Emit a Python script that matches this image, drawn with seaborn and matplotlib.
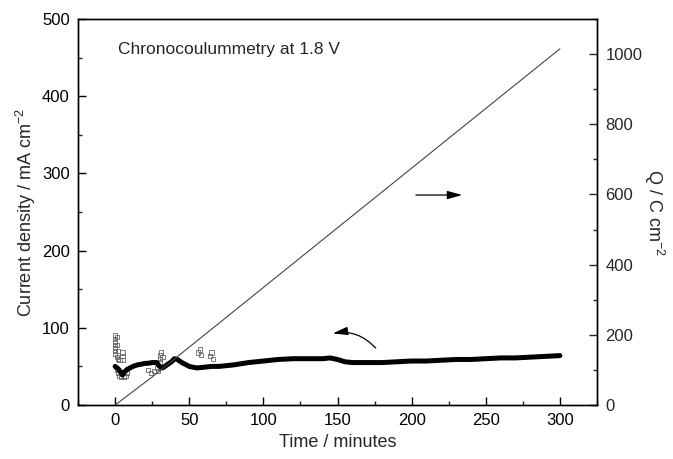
import matplotlib
matplotlib.use("Agg")
import matplotlib.pyplot as plt
import seaborn as sns
import pandas as pd
from matplotlib.ticker import MultipleLocator

# ---- data ----
time_min = [0, 2, 4, 5, 6, 8, 10, 12, 15, 18, 20, 22, 25, 28, 30, 32, 35, 38, 40, 42,
            45, 48, 50, 55, 60, 65, 70, 75, 80, 90, 100, 110, 120, 130, 140, 145, 150,
            155, 160, 170, 180, 190, 200, 210, 220, 230, 240, 250, 260, 270, 280, 290, 300]
current = [50, 47, 42, 39, 42, 46, 48, 50, 52, 53, 54, 54, 55, 55, 50, 48, 52, 56, 60, 59,
           55, 52, 50, 48, 49, 50, 50, 51, 52, 55, 57, 59, 60, 60, 60, 61, 59,
           56, 55, 55, 55, 56, 57, 57, 58, 59, 59, 60, 61, 61, 62, 63, 64]

spike_t = [0, 0, 0, 0, 0, 0, 0, 1, 1, 1, 1, 2, 2, 2, 3, 3, 4, 4, 5, 5, 5, 6, 7, 8,
           22, 24, 26, 28, 29, 30, 30, 30, 31, 32, 56, 57, 58, 64, 65, 66]
spike_i = [90, 86, 82, 78, 74, 70, 66, 88, 78, 62, 45, 70, 60, 42, 58, 38, 40, 36, 68, 63, 58,
           36, 38, 42, 45, 42, 44, 48, 44, 65, 60, 55, 68, 62, 68, 72, 65, 64, 68, 60]

q_time = [0, 25, 50, 75, 100, 125, 150, 175, 200, 225, 250, 275, 300]
q_charge = [0, 80, 165, 250, 335, 420, 505, 590, 675, 760, 845, 930, 1015]

df_i = pd.DataFrame({"t": time_min, "i": current})
df_s = pd.DataFrame({"t": spike_t, "i": spike_i})
df_q = pd.DataFrame({"t": q_time, "q": q_charge})

sns.set_style("white")
plt.rcParams["font.family"] = ["Liberation Sans", "DejaVu Sans"]
plt.rcParams["mathtext.fontset"] = "custom"
plt.rcParams["mathtext.rm"] = "Liberation Sans"

fig = plt.figure(figsize=(6.73, 4.59), dpi=100)
ax = fig.add_axes([0.116, 0.1176, 0.771, 0.841])
ax2 = ax.twinx()

# current density trace
sns.lineplot(data=df_i, x="t", y="i", ax=ax, color="black", linewidth=3.6,
             estimator=None, sort=False)
sns.scatterplot(data=df_s, x="t", y="i", ax=ax, marker="s", s=9,
                facecolor="none", edgecolor="#666666", linewidth=0.6)

# charge
sns.lineplot(data=df_q, x="t", y="q", ax=ax2, color="#444444", linewidth=0.8,
             estimator=None, sort=False)

ax.set_xlim(-25, 325)
ax.set_ylim(0, 500)
ax2.set_ylim(0, 1100)

ax.xaxis.set_major_locator(MultipleLocator(50))
ax.xaxis.set_minor_locator(MultipleLocator(25))
ax.yaxis.set_major_locator(MultipleLocator(100))
ax.yaxis.set_minor_locator(MultipleLocator(50))
ax2.yaxis.set_major_locator(MultipleLocator(200))
ax2.yaxis.set_minor_locator(MultipleLocator(100))

for a in (ax, ax2):
    for s in a.spines.values():
        s.set_color("black")
        s.set_linewidth(1.0)

ax.tick_params(axis="both", which="major", direction="in", length=6, width=1,
               labelsize=12, colors="black", pad=6)
ax.tick_params(axis="both", which="minor", direction="in", length=3, width=1)
ax.tick_params(top=False, right=False, left=True, bottom=True, which="both")
ax2.tick_params(axis="y", which="major", direction="in", length=6, width=1,
                labelsize=12, pad=6)
ax2.tick_params(axis="y", which="minor", direction="in", length=3, width=1)

ax.set_xlabel("Time / minutes", fontsize=13, labelpad=4)
ax.set_ylabel("Current density / mA cm$^{-2}$", fontsize=13, labelpad=3)
ax2.set_ylabel("Q / C cm$^{-2}$", fontsize=13, rotation=270, labelpad=17)

ax.text(2, 461, "Chronocoulummetry at 1.8 V", fontsize=12.5, va="center", ha="left")

ax.annotate("", xy=(236, 272), xytext=(201, 272),
            arrowprops=dict(arrowstyle="-|>,head_length=0.9,head_width=0.25",
                            color="black", lw=0.9))
ax.annotate("", xy=(145, 92), xytext=(177, 71),
            arrowprops=dict(arrowstyle="-|>,head_length=0.9,head_width=0.25",
                            color="black", lw=0.9,
                            connectionstyle="arc3,rad=0.3"))

fig.savefig("out.png", dpi=100)
